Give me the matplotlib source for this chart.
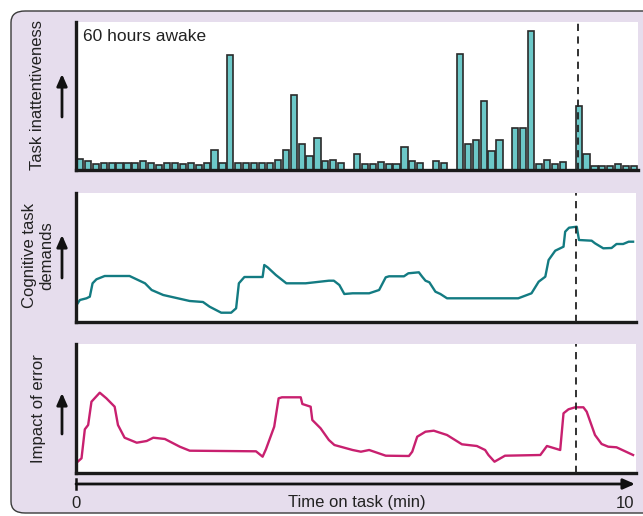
import numpy as np
import matplotlib
matplotlib.use("Agg")
import matplotlib.pyplot as plt
from matplotlib.patches import FancyBboxPatch, FancyArrowPatch
from matplotlib.lines import Line2D

#---------------------------------------------
# Data
#---------------------------------------------

# Task inattentiveness: one bar every 1/7 min (arbitrary units)
inattention = [11, 9, 6, 7, 7, 7, 7, 7, 9, 7, 5.5, 7.5, 7, 6, 7, 5, 7, 20, 7, 115,
               7, 7, 7, 7, 7, 10, 20, 75, 26, 14, 32, 8.6, 10, 7, 0, 16, 6.3, 6.3, 8.3, 6.3,
               6.3, 23, 9, 7.3, 0, 8.7, 7, 0, 116, 26, 30, 69, 19, 30, 0, 42, 42, 139,
               5.7, 9.7, 6.3, 8.3, 0, 64, 16, 4.3, 4.3, 4.3, 6.3, 4.3, 4.3]
bars_per_min = 7

# Cognitive task demands (time in min, level in arbitrary units)
demand_t = [0.01, 0.07, 0.19, 0.25, 0.30, 0.37, 0.52, 0.97, 1.25, 1.37, 1.58, 2.06, 2.30,
            2.42, 2.63, 2.81, 2.90, 2.95, 3.05, 3.38, 3.41, 3.47, 3.62, 3.81, 4.16, 4.58,
            4.67, 4.77, 4.86, 5.01, 5.31, 5.49, 5.61, 5.67, 5.94, 6.02, 6.21, 6.27, 6.33,
            6.40, 6.51, 6.60, 6.72, 8.01, 8.25, 8.38, 8.50, 8.56, 8.68, 8.83, 8.86, 8.93,
            9.07, 9.11, 9.34, 9.40, 9.55, 9.70, 9.79, 9.91, 10.01, 10.09]
demand = [17, 22, 23.7, 25.3, 38.7, 42.7, 46, 46, 38.7, 32, 27, 21, 20,
          15.3, 9.3, 9.3, 13.7, 38.7, 45, 45, 57, 54.7, 47, 38.7, 38.7, 41.3,
          41.3, 37, 28, 28.7, 28.7, 32, 44.7, 45.7, 45.7, 48.7, 49.7, 45.3, 41.3,
          39.7, 30.3, 28, 23.7, 23.7, 28.7, 40.3, 45.3, 62, 71.3, 75.3, 90.3, 94.3,
          95.3, 82, 81.3, 78.7, 73.7, 74, 78, 78, 80.3, 80.3]

# Impact of error
impact_t = [0.01, 0.10, 0.16, 0.22, 0.28, 0.43, 0.55, 0.70, 0.76, 0.88, 1.10, 1.28, 1.40,
            1.61, 1.88, 2.06, 3.26, 3.38, 3.44, 3.59, 3.67, 3.73, 4.07, 4.10, 4.25, 4.28,
            4.43, 4.58, 4.68, 5.01, 5.16, 5.31, 5.61, 6.03, 6.09, 6.18, 6.33, 6.48, 6.72,
            6.99, 7.26, 7.41, 7.47, 7.58, 7.77, 8.41, 8.53, 8.77, 8.83, 8.92, 9.04, 9.19,
            9.25, 9.40, 9.52, 9.64, 9.79, 10.00, 10.09]
impact = [10.3, 14.7, 43.7, 48, 71.3, 80.3, 74.7, 66.3, 48, 35.3, 30.3, 32, 35.3,
          34, 26.3, 22.3, 21.7, 16.3, 23.7, 46.3, 74.7, 75.7, 75.7, 69, 66.3, 53,
          44.7, 33, 28, 23, 21.3, 23, 17.3, 17, 21.3, 36.3, 41.3, 42.3, 38,
          28.7, 27, 23, 18, 11.3, 17.3, 18, 27, 23, 59.7, 63.7, 65.7, 65.7,
          61.3, 38, 29, 26.3, 25.7, 20.3, 18]

event_t = 9.06  # dashed marker (min)

#---------------------------------------------
# Styling
#---------------------------------------------

plt.rcParams['font.family'] = ['Liberation Sans', 'DejaVu Sans']
plt.rcParams['font.size'] = 12

W, H = 643, 516
fig = plt.figure(figsize=(W / 100, H / 100), dpi=100)

purple = '#E6DDED'
bar_fill = '#6CC8C8'
teal = '#137B82'
magenta = '#C8206F'
ink = '#222222'

# Rounded background panel
box = FancyBboxPatch((11 / W, 3 / H), (W + 20 - 11) / W, (H - 11 - 3) / H,
                     boxstyle="round,pad=0,rounding_size=0.022",
                     transform=fig.transFigure, facecolor=purple,
                     edgecolor='#3a3a3a', linewidth=1.0, zorder=-5)
fig.patches.append(box)


def px_axes(left, top, right, bottom):
    return fig.add_axes([left / W, (H - bottom) / H, (right - left) / W, (bottom - top) / H])


xmax = len(inattention) / bars_per_min


def style_panel(ax, ymax):
    ax.set_xlim(0, xmax)
    ax.set_ylim(0, ymax)
    for s in ['top', 'right']:
        ax.spines[s].set_visible(False)
    for s in ['left', 'bottom']:
        ax.spines[s].set_linewidth(2.4)
        ax.spines[s].set_color('#1a1a1a')
    ax.set_xticks([])
    ax.set_yticks([])
    ax.set_facecolor('white')


#---------------------------------------------
# Panel 1: bars
#---------------------------------------------

ax1 = px_axes(76, 22, 638, 170)
style_panel(ax1, 148)
centers = (np.arange(len(inattention)) + 0.5) / bars_per_min
ax1.bar(centers, inattention, width=0.78 / bars_per_min, color=bar_fill,
        edgecolor='#2a2a2a', linewidth=1.2, zorder=2)
ax1.axvline(event_t, color=ink, lw=1.3, ls=(0, (4, 3)), zorder=3)
ax1.text(0.012, 0.955, '60 hours awake', transform=ax1.transAxes, ha='left', va='top',
         fontsize=12.5, color=ink)

#---------------------------------------------
# Panel 2: cognitive demands
#---------------------------------------------

ax2 = px_axes(76, 193, 636, 322)
style_panel(ax2, 129)
ax2.plot(demand_t, demand, color=teal, lw=1.7, solid_joinstyle='round', zorder=2)
ax2.axvline(event_t, color=ink, lw=1.3, ls=(0, (4, 3)), zorder=3)

#---------------------------------------------
# Panel 3: impact of error
#---------------------------------------------

ax3 = px_axes(76, 344, 636, 473)
style_panel(ax3, 129)
ax3.plot(impact_t, impact, color=magenta, lw=1.7, solid_joinstyle='round', zorder=2)
ax3.axvline(event_t, color=ink, lw=1.3, ls=(0, (4, 3)), zorder=3)

#---------------------------------------------
# Labels and arrows (figure pixels)
#---------------------------------------------

def fig_text(x, y, s, **kw):
    fig.text(x / W, (H - y) / H, s, **kw)


def arrow(x0, y0, x1, y1):
    fig.add_artist(FancyArrowPatch(
        (x0 / W, (H - y0) / H), (x1 / W, (H - y1) / H), transform=fig.transFigure,
        arrowstyle='-|>,head_length=0.5,head_width=0.22', mutation_scale=14,
        color='#111111', lw=2.0, shrinkA=0, shrinkB=0))


fig_text(38, 95, 'Task inattentiveness', rotation=90, ha='center', va='center', color=ink)
arrow(62, 117, 62, 74)
fig_text(38, 256, 'Cognitive task\ndemands', rotation=90, ha='center', va='center',
         color=ink, linespacing=1.2, multialignment='center')
arrow(62, 278, 62, 235)
fig_text(38, 409, 'Impact of error', rotation=90, ha='center', va='center', color=ink)
arrow(62, 434, 62, 393)

# Time axis
arrow(76, 484, 635, 484)
fig.add_artist(Line2D([76 / W, 76 / W], [(H - 479) / H, (H - 489) / H],
                      transform=fig.transFigure, color='#111111', lw=1.8))
fig_text(76, 503, '0', ha='center', va='center', color=ink)
fig_text(625, 503, '10', ha='center', va='center', color=ink)
fig_text(357, 502, 'Time on task (min)', ha='center', va='center', color=ink)

fig.savefig('out.png', dpi=100)
